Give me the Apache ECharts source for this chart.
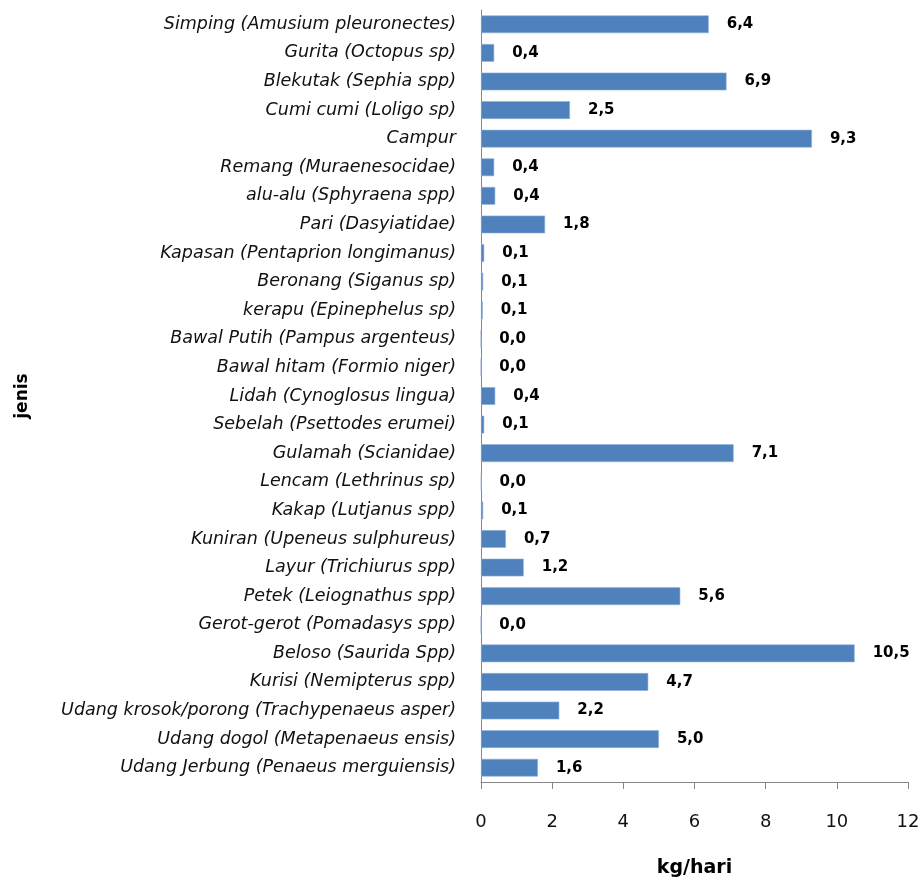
<!DOCTYPE html>
<html>
<head>
<meta charset="utf-8">
<script src="https://cdn.jsdelivr.net/npm/echarts@6/dist/echarts.min.js"></script>
<style>html,body{margin:0;padding:0;background:#fff}#c{width:924px;height:883px}</style>
</head>
<body>
<div id="c"></div>
<script>
// categories listed top to bottom
const categories = [
  "Simping (Amusium pleuronectes)",
  "Gurita (Octopus sp)",
  "Blekutak (Sephia spp)",
  "Cumi cumi (Loligo sp)",
  "Campur",
  "Remang (Muraenesocidae)",
  "alu-alu (Sphyraena spp)",
  "Pari (Dasyiatidae)",
  "Kapasan (Pentaprion longimanus)",
  "Beronang (Siganus sp)",
  "kerapu (Epinephelus sp)",
  "Bawal Putih (Pampus argenteus)",
  "Bawal hitam (Formio niger)",
  "Lidah (Cynoglosus lingua)",
  "Sebelah (Psettodes erumei)",
  "Gulamah (Scianidae)",
  "Lencam (Lethrinus sp)",
  "Kakap (Lutjanus spp)",
  "Kuniran (Upeneus sulphureus)",
  "Layur (Trichiurus spp)",
  "Petek (Leiognathus spp)",
  "Gerot-gerot (Pomadasys spp)",
  "Beloso (Saurida Spp)",
  "Kurisi (Nemipterus spp)",
  "Udang krosok/porong (Trachypenaeus asper)",
  "Udang dogol (Metapenaeus ensis)",
  "Udang Jerbung (Penaeus merguiensis)"
];
const values = [6.4, 0.37, 6.9, 2.5, 9.3, 0.37, 0.4, 1.8, 0.09, 0.06, 0.05, 0.0, 0.0, 0.4, 0.09, 7.1, 0.01, 0.06, 0.7, 1.2, 5.6, 0.0, 10.5, 4.7, 2.2, 5.0, 1.6];
const xTicks = [0, 2, 4, 6, 8, 10, 12];

const FONT = "DejaVu Sans";
const chart = echarts.init(document.getElementById('c'));
chart.setOption({
  animation: false,
  backgroundColor: '#fff',
  grid: { left: 481, right: 16, top: 10, bottom: 97, containLabel: false },
  xAxis: {
    type: 'value',
    min: xTicks[0], max: xTicks[xTicks.length - 1], interval: 2,
    name: 'kg/hari', nameLocation: 'middle', nameGap: 77,
    nameTextStyle: { fontFamily: FONT, fontWeight: 'bold', fontSize: 19, color: '#000' },
    axisLine: { show: true, lineStyle: { color: '#868686', width: 1 } },
    axisTick: { show: true, length: 7, lineStyle: { color: '#868686' } },
    axisLabel: { fontFamily: FONT, fontSize: 18, color: '#111', margin: 31 },
    splitLine: { show: false }
  },
  yAxis: {
    type: 'category', inverse: true, data: categories,
    name: 'jenis', nameLocation: 'middle', nameGap: 450,
    nameTextStyle: { fontFamily: FONT, fontWeight: 'bold', fontSize: 17, color: '#000' },
    axisLine: { show: true, lineStyle: { color: '#868686', width: 1 } },
    axisTick: { show: false },
    axisLabel: { fontFamily: FONT, fontStyle: 'italic', fontSize: 17.5, color: '#111', margin: 25 }
  },
  series: [{
    type: 'bar', data: values, barCategoryGap: '38%',
    itemStyle: { color: '#4f81bd', borderColor: '#8eb0da', borderWidth: 0.6 },
    label: {
      show: true, position: 'right', distance: 18,
      fontFamily: FONT, fontWeight: 'bold', fontSize: 15, color: '#000',
      formatter: p => (Math.round(p.value * 10) / 10).toFixed(1).replace('.', ',')
    }
  }]
});
</script>
</body>
</html>
